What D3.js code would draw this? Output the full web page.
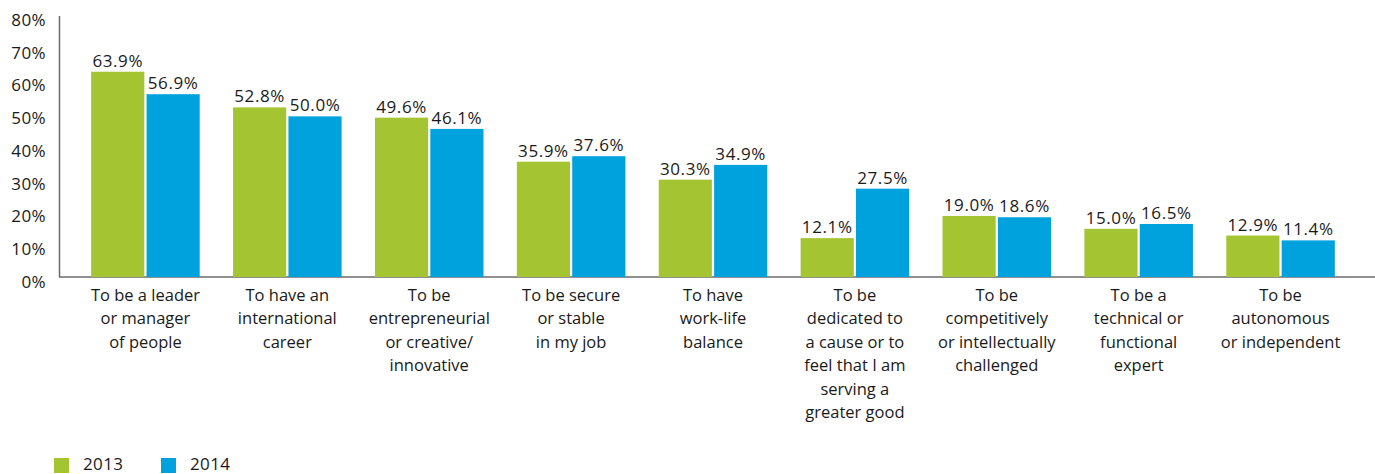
<!DOCTYPE html>
<html><head><meta charset="utf-8">
<script src="https://cdn.jsdelivr.net/npm/d3@7"></script>
<style>body{margin:0;background:#fff;} text{font-family:"Open Sans","DejaVu Sans",sans-serif;fill:#1a1a1a;}</style>
</head><body>
<svg id="c" width="1375" height="474"></svg>
<script>
const categories = [
  ["To be a leader","or manager","of people"],
  ["To have an","international","career"],
  ["To be","entrepreneurial","or creative/","innovative"],
  ["To be secure","or stable","in my job"],
  ["To have","work-life","balance"],
  ["To be","dedicated to","a cause or to","feel that I am","serving a","greater good"],
  ["To be","competitively","or intellectually","challenged"],
  ["To be a","technical or","functional","expert"],
  ["To be","autonomous","or independent"]
];
const seriesNames = ["2013","2014"];
const values2013 = [63.9,52.8,49.6,35.9,30.3,12.1,19.0,15.0,12.9];
const values2014 = [56.9,50.0,46.1,37.6,34.9,27.5,18.6,16.5,11.4];
const yTicks = [0,10,20,30,40,50,60,70,80];
const colors = ["#a5c432","#00a2dd"];

const svg = d3.select("#c");
const keys = categories.map((c,i)=>i);
const x0 = d3.scaleBand().domain(keys).range([74.5,1351.5]).paddingInner(0.235).paddingOuter(0.1175);
const x1 = d3.scaleBand().domain(seriesNames).range([0,x0.bandwidth()]).paddingInner(0.04);
const y = d3.scaleLinear().domain([0,80]).range([277,20]);
const series = [values2013, values2014];

// axes
svg.append("line").attr("x1",59.5).attr("x2",59.5).attr("y1",16).attr("y2",277).attr("stroke","#6b6b6b").attr("stroke-width",1.5);
svg.append("line").attr("x1",59).attr("x2",1375).attr("y1",277).attr("y2",277).attr("stroke","#6b6b6b").attr("stroke-width",1.5);

svg.append("g").selectAll("text").data(yTicks).join("text")
  .attr("x",46).attr("y",d=>y(d)+(1-d/80)*5)
  .attr("dy","0.35em").attr("text-anchor","end").style("font-size","17px").style("letter-spacing","0.4px")
  .text(d=>d+"%");

const groups = svg.append("g").selectAll("g").data(keys).join("g")
  .attr("transform",i=>`translate(${x0(i)},0)`);

seriesNames.forEach((s,si)=>{
  groups.append("rect")
    .attr("x",x1(s)).attr("width",x1.bandwidth())
    .attr("y",i=>y(series[si][i])).attr("height",i=>y(0)-y(series[si][i]))
    .attr("fill",colors[si]);
  groups.append("text")
    .attr("x",x1(s)+x1.bandwidth()/2).attr("y",i=>y(series[si][i])-5)
    .attr("text-anchor","middle").style("font-size","17px").style("letter-spacing","0.6px")
    .text(i=>series[si][i].toFixed(1)+"%");
});

groups.append("text").attr("text-anchor","middle").style("font-size","16.5px")
  .selectAll("tspan").data(i=>categories[i]).join("tspan")
  .attr("x",x0.bandwidth()/2).attr("y",(d,j)=>300.5+j*23.5).text(d=>d);

// legend
const leg = svg.append("g");
seriesNames.forEach((s,si)=>{
  const lx = 54 + si*107;
  leg.append("rect").attr("x",lx).attr("y",458).attr("width",15).attr("height",15).attr("fill",colors[si]);
  leg.append("text").attr("x",lx+29).attr("y",469.5).style("font-size","17px").style("letter-spacing","0.4px").text(s);
});
</script>
</body></html>
